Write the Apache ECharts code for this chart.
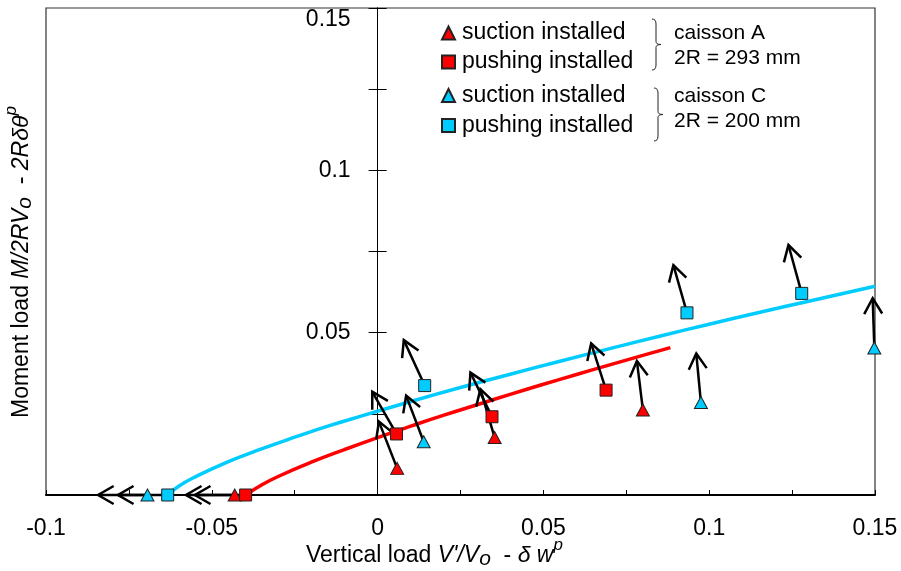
<!DOCTYPE html>
<html>
<head>
<meta charset="utf-8">
<style>
  html, body { margin: 0; padding: 0; background: #fff; }
  #chart { width: 901px; height: 571px; }
</style>
<script src="https://cdn.jsdelivr.net/npm/echarts@6/dist/echarts.min.js"></script>
</head>
<body>
<div id="chart"></div>
<script>
// Axis ticks and their printed labels
const xTickValues = [-0.1, -0.05, 0, 0.05, 0.1, 0.15];
const xTickLabels = ['-0.1', '-0.05', '0', '0.05', '0.1', '0.15'];
const yTickValues = [0.05, 0.1, 0.15];
const yTickLabels = ['0.05', '0.1', '0.15'];

// Caisson A (2R = 293 mm): measured points and plastic-displacement arrow tips
const suctionA      = [[-0.0431, 0], [0.0059, 0.0082], [0.0353, 0.0177], [0.0800, 0.0262]];
const suctionATips  = [[-0.0578, 0], [0.0004, 0.0226], [0.0310, 0.0326], [0.0782, 0.0413]];
const pushingA      = [[-0.0398, 0], [0.0057, 0.0188], [0.0345, 0.0241], [0.0689, 0.0323]];
const pushingATips  = [[-0.0551, 0], [-0.0016, 0.0318], [0.0280, 0.0377], [0.0644, 0.0467]];

// Caisson C (2R = 200 mm)
const suctionC      = [[-0.0694, 0], [0.0139, 0.0164], [0.0975, 0.0285], [0.1498, 0.0453]];
const suctionCTips  = [[-0.0843, 0], [0.0086, 0.0306], [0.0961, 0.0436], [0.1493, 0.0606]];
const pushingC      = [[-0.0633, 0], [0.0142, 0.0337], [0.0933, 0.0561], [0.1279, 0.0621]];
const pushingCTips  = [[-0.0783, 0], [0.0079, 0.0477], [0.0892, 0.0708], [0.1239, 0.0770]];

// Yield surface traces
const surfaceA = [[-0.0398, 0], [-0.035, 0.0031], [-0.03, 0.0057], [-0.02, 0.0101], [-0.01, 0.0140],
  [0, 0.0177], [0.01, 0.0212], [0.02, 0.0246], [0.03, 0.0278], [0.04, 0.0310], [0.05, 0.0341],
  [0.06, 0.0371], [0.07, 0.0401], [0.08, 0.0430], [0.0883, 0.0454]];
const surfaceC = [[-0.0633, 0], [-0.06, 0.0027], [-0.055, 0.0056], [-0.045, 0.0103], [-0.035, 0.0142],
  [-0.025, 0.0178], [-0.015, 0.0212], [-0.005, 0.0243], [0.01, 0.0288], [0.025, 0.0331],
  [0.04, 0.0372], [0.055, 0.0412], [0.07, 0.0451], [0.085, 0.0489], [0.1, 0.0526], [0.115, 0.0562],
  [0.13, 0.0597], [0.15, 0.0643]];

const X_MIN = -0.1, X_MAX = 0.15;
const RED = '#ff0000';
const CYAN = '#00ccff';
const FONT = "'Liberation Sans', Arial, sans-serif";

// Plot box, in pixels
const GRID = { left: 46, right: 26, top: 8, bottom: 76 };
const plotWidth = 901 - GRID.left - GRID.right;
// shift the vertical axis from the box edges onto x = 0
const leftAxisShift = -plotWidth * (0 - X_MIN) / (X_MAX - X_MIN);
const rightAxisShift = -plotWidth * (X_MAX - 0) / (X_MAX - X_MIN);

function arrowRows(from, to) {
  return from.map((p, i) => [p[0], p[1], to[i][0], to[i][1]]);
}
const arrows = [].concat(
  arrowRows(suctionA, suctionATips), arrowRows(pushingA, pushingATips),
  arrowRows(suctionC, suctionCTips), arrowRows(pushingC, pushingCTips));

function labelFor(values, labels, topValue) {
  return function (v) {
    const i = values.findIndex(t => Math.abs(t - v) < 1e-9);
    if (i < 0) return '';
    // the label at the very top sits a little below its tick
    if (topValue != null && Math.abs(v - topValue) < 1e-9) return '{top|' + labels[i] + '}';
    return labels[i];
  };
}

// Open-headed arrow: shaft plus a V-shaped head
function renderArrow(params, api) {
  const a = api.coord([api.value(0), api.value(1)]);
  const b = api.coord([api.value(2), api.value(3)]);
  const ang = Math.atan2(a[1] - b[1], a[0] - b[0]);
  const len = 18, spread = Math.PI / 6;
  const h1 = [b[0] + len * Math.cos(ang + spread), b[1] + len * Math.sin(ang + spread)];
  const h2 = [b[0] + len * Math.cos(ang - spread), b[1] + len * Math.sin(ang - spread)];
  const st = { stroke: '#000', lineWidth: 2.5, fill: null, lineCap: 'butt', lineJoin: 'miter' };
  return {
    type: 'group',
    children: [
      { type: 'line', shape: { x1: a[0], y1: a[1], x2: b[0], y2: b[1] }, style: st },
      { type: 'polyline', shape: { points: [h1, b, h2] }, style: st }
    ]
  };
}

// Curly brace built from quadratic curves and straight segments
function brace(x, y0, y1) {
  const ym = (y0 + y1) / 2;
  const s = x + 4, t = x + 9;
  const st = { stroke: '#222', lineWidth: 1, fill: null };
  const q = (x1, y1, cx, cy, x2, y2) => ({ type: 'bezierCurve', shape: { x1, y1, cpx1: cx, cpy1: cy, x2, y2 }, style: st });
  const l = (x1, y1, x2, y2) => ({ type: 'line', shape: { x1, y1, x2, y2 }, style: st });
  return {
    type: 'group',
    children: [
      q(x, y0, s, y0, s, y0 + 5),
      l(s, y0 + 5, s, ym - 3),
      q(s, ym - 3, s, ym, t, ym),
      q(t, ym, s, ym, s, ym + 3),
      l(s, ym + 3, s, y1 - 5),
      q(s, y1 - 5, s, y1, x, y1)
    ]
  };
}

const markerStyle = (c) => ({ color: c, borderColor: '#222', borderWidth: 1, opacity: 1 });
const legendText = { fontFamily: FONT, fontSize: 23, color: '#000', lineHeight: 23, padding: [0, 0, 0, 2] };
const trimName = (n) => n.replace(/ \([AC]\)$/, '');
const titleRich = {
  n: { fontSize: 23, fontFamily: FONT, fill: '#000' },
  i: { fontSize: 23, fontFamily: FONT, fontStyle: 'italic', fill: '#000' },
  sub: { fontSize: 21, fontFamily: FONT, fontStyle: 'italic', padding: [6, 0, 0, 0], fill: '#000' },
  sup: { fontSize: 17, fontFamily: FONT, fontStyle: 'italic', padding: [0, 0, 22, 0], fill: '#000' }
};

const chart = echarts.init(document.getElementById('chart'), null, { renderer: 'canvas' });
chart.setOption({
  animation: false,
  backgroundColor: '#fff',
  textStyle: { fontFamily: FONT },
  grid: Object.assign({}, GRID, {
    show: true, borderColor: '#333', borderWidth: 1.2, containLabel: false, outerBoundsMode: 'none'
  }),
  xAxis: {
    type: 'value', min: X_MIN, max: X_MAX, interval: 0.025,
    axisLine: { onZero: false, lineStyle: { color: '#000', width: 2 } },
    axisTick: { inside: true, length: 5, lineStyle: { color: '#000', width: 1 } },
    axisLabel: { formatter: labelFor(xTickValues, xTickLabels), color: '#000', fontSize: 23, fontFamily: FONT, margin: 22 },
    splitLine: { show: false }
  },
  yAxis: [{
    type: 'value', min: 0, max: 0.15, interval: 0.025, position: 'left', offset: leftAxisShift,
    axisLine: { onZero: false, lineStyle: { color: '#000', width: 1 } },
    axisTick: { inside: false, length: 9, lineStyle: { color: '#000', width: 1 } },
    axisLabel: {
      formatter: labelFor(yTickValues, yTickLabels, 0.15), color: '#000', fontSize: 23, fontFamily: FONT, margin: 27,
      rich: { top: { fontSize: 23, fontFamily: FONT, color: '#000', padding: [24, 0, 0, 0] } }
    },
    splitLine: { show: false }
  }, {
    type: 'value', min: 0, max: 0.15, interval: 0.025, position: 'right', offset: rightAxisShift,
    axisLine: { onZero: false, lineStyle: { color: '#000', width: 1 } },
    axisTick: { inside: false, length: 9, lineStyle: { color: '#000', width: 1 } },
    axisLabel: { show: false },
    splitLine: { show: false }
  }],
  legend: [{
    orient: 'vertical', left: 441, top: 21.5, padding: 0, itemGap: 6,
    itemWidth: 13, itemHeight: 13, textStyle: legendText, formatter: trimName,
    selectedMode: false,
    data: ['suction installed (A)', 'pushing installed (A)']
  }, {
    orient: 'vertical', left: 441, top: 84, padding: 0, itemGap: 7,
    itemWidth: 13, itemHeight: 13, textStyle: legendText, formatter: trimName,
    selectedMode: false,
    data: ['suction installed (C)', 'pushing installed (C)']
  }],
  graphic: [
    brace(652, 19, 70),
    brace(654, 88, 141),
    { type: 'text', x: 674, y: 33, style: { text: 'caisson A', font: '21px ' + FONT, fill: '#000', verticalAlign: 'middle' } },
    { type: 'text', x: 674, y: 58, style: { text: '2R = 293 mm', font: '21px ' + FONT, fill: '#000', verticalAlign: 'middle' } },
    { type: 'text', x: 674, y: 96, style: { text: 'caisson C', font: '21px ' + FONT, fill: '#000', verticalAlign: 'middle' } },
    { type: 'text', x: 674, y: 121, style: { text: '2R = 200 mm', font: '21px ' + FONT, fill: '#000', verticalAlign: 'middle' } },
    {
      type: 'text', x: 306, y: 556,
      style: {
        text: '{n|Vertical load }{i|V\'/V}{sub|o}{n|  - }{i|\u03b4 w}{sup|p}',
        verticalAlign: 'middle', align: 'left', rich: titleRich
      }
    },
    {
      type: 'text', x: 22, y: 418, rotation: Math.PI / 2,
      style: {
        text: '{n|Moment load }{i|M/2RV}{sub|o}{n|  - }{i|2R\u03b4\u03b8}{sup|p}',
        verticalAlign: 'middle', align: 'left', rich: titleRich
      }
    }
  ],
  series: [
    { name: 'surface A', type: 'line', data: surfaceA, showSymbol: false, smooth: true,
      lineStyle: { color: RED, width: 3.5 }, z: 2, silent: true },
    { name: 'surface C', type: 'line', data: surfaceC, showSymbol: false, smooth: true,
      lineStyle: { color: CYAN, width: 3.5 }, z: 2, silent: true },
    { name: 'arrows', type: 'custom', data: arrows, renderItem: renderArrow, clip: false,
      encode: { x: [0, 2], y: [1, 3] }, z: 3, silent: true },
    { name: 'suction installed (A)', type: 'scatter', data: suctionA, symbol: 'triangle', symbolSize: [13, 12],
      itemStyle: markerStyle(RED), z: 4 },
    { name: 'suction installed (C)', type: 'scatter', data: suctionC, symbol: 'triangle', symbolSize: [13, 12],
      itemStyle: markerStyle(CYAN), z: 4 },
    { name: 'pushing installed (A)', type: 'scatter', data: pushingA, symbol: 'rect', symbolSize: 12,
      itemStyle: markerStyle(RED), z: 5 },
    { name: 'pushing installed (C)', type: 'scatter', data: pushingC, symbol: 'rect', symbolSize: 12,
      itemStyle: markerStyle(CYAN), z: 5 }
  ]
});
</script>
</body>
</html>
